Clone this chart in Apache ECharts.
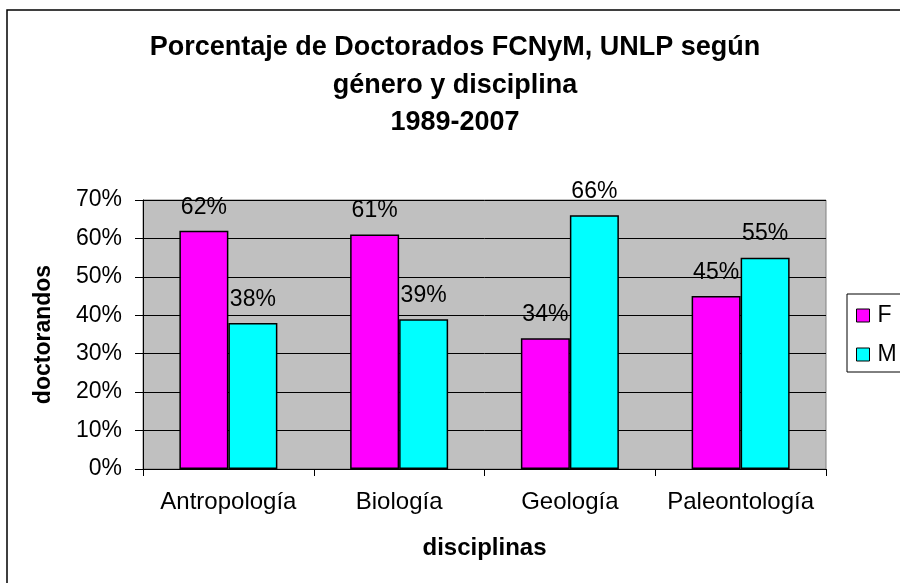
<!DOCTYPE html>
<html>
<head>
<meta charset="utf-8">
<script src="https://cdn.jsdelivr.net/npm/echarts@6/dist/echarts.min.js"></script>
<style>
html,body{margin:0;padding:0;background:#fff;}
#c{width:900px;height:583px;}
</style>
</head>
<body>
<div id="c"></div>
<script>
const categories = ['Antropología', 'Biología', 'Geología', 'Paleontología'];
const seriesF = [0.62, 0.61, 0.34, 0.45];
const seriesM = [0.38, 0.39, 0.66, 0.55];
const yTicks = [0, 0.1, 0.2, 0.3, 0.4, 0.5, 0.6, 0.7];

const FONT = '"Liberation Sans", Arial, sans-serif';
const pct = v => Math.round(v * 100) + '%';

const chart = echarts.init(document.getElementById('c'), null, {renderer: 'canvas'});
chart.setOption({
  animation: false,
  backgroundColor: '#fff',
  textStyle: {fontFamily: FONT},
  graphic: [{
    type: 'rect', silent: true, z: 100,
    shape: {x: 7, y: 10, width: 1000, height: 1000},
    style: {fill: 'none', stroke: '#000', lineWidth: 1.5}
  }],
  title: {
    text: 'Porcentaje de Doctorados FCNyM, UNLP según\ngénero y disciplina\n1989-2007',
    left: 455, top: 29, textAlign: 'center', padding: 0,
    textStyle: {fontFamily: FONT, fontSize: 27, fontWeight: 'bold', color: '#000', lineHeight: 37.5}
  },
  legend: {
    orient: 'vertical', left: 847, top: 294,
    padding: [10, 20, 6, 9],
    itemWidth: 13, itemHeight: 13, itemGap: 16,
    borderColor: '#000', borderWidth: 1,
    icon: 'rect',
    itemStyle: {borderColor: '#000', borderWidth: 1},
    textStyle: {fontFamily: FONT, fontSize: 23, color: '#000', padding: [0, 0, 0, 3]},
    data: ['F', 'M']
  },
  grid: {
    left: 143, top: 200, width: 683, height: 269,
    show: true, backgroundColor: '#C0C0C0', borderColor: '#808080', borderWidth: 1
  },
  xAxis: {
    type: 'category', data: categories,
    name: 'disciplinas', nameLocation: 'middle', nameGap: 67,
    nameTextStyle: {fontFamily: FONT, fontSize: 24, fontWeight: 'bold', color: '#000'},
    axisLine: {show: true, lineStyle: {color: '#000', width: 1}},
    axisTick: {show: true, length: 7, interval: 0, lineStyle: {color: '#000'}},
    axisLabel: {fontFamily: FONT, fontSize: 24, color: '#000', margin: 21, interval: 0},
    splitLine: {show: false}
  },
  yAxis: {
    type: 'value', min: 0, max: 0.7, interval: 0.1,
    name: 'doctorandos', nameLocation: 'middle', nameGap: 88, nameRotate: 90,
    nameTextStyle: {fontFamily: FONT, fontSize: 23, fontWeight: 'bold', color: '#000'},
    axisLine: {show: true, lineStyle: {color: '#000', width: 1}},
    axisTick: {show: true, length: 8, lineStyle: {color: '#000'}},
    axisLabel: {fontFamily: FONT, fontSize: 23, color: '#000', margin: 21,
      formatter: v => pct(v)},
    splitLine: {show: true, lineStyle: {color: '#000', width: 1}}
  },
  series: [
    {
      name: 'F', type: 'bar', data: seriesF, barWidth: 49, barGap: '0%',
      itemStyle: {color: '#FF00FF', borderColor: '#000', borderWidth: 1.5},
      label: {show: true, position: 'top', distance: 12, fontFamily: FONT, fontSize: 23, color: '#000',
        formatter: p => pct(p.value)}
    },
    {
      name: 'M', type: 'bar', data: seriesM, barWidth: 49, barGap: '0%',
      itemStyle: {color: '#00FFFF', borderColor: '#000', borderWidth: 1.5},
      label: {show: true, position: 'top', distance: 12, fontFamily: FONT, fontSize: 23, color: '#000',
        formatter: p => pct(p.value)}
    }
  ]
});
</script>
</body>
</html>
